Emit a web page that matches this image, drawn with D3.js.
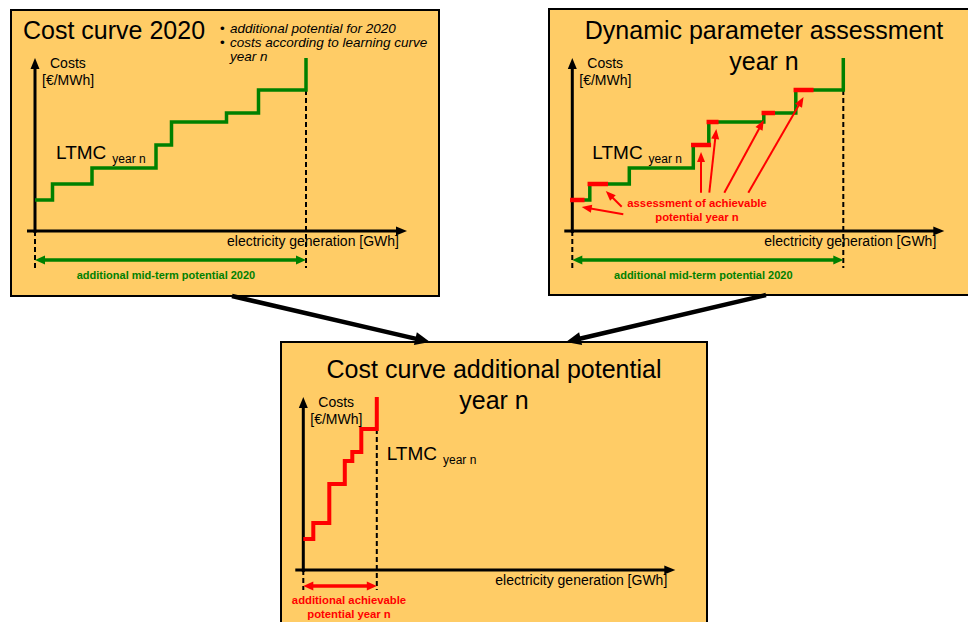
<!DOCTYPE html>
<html><head><meta charset="utf-8">
<script src="https://cdn.jsdelivr.net/npm/d3@7"></script>
<style>body{margin:0;background:#fff}svg{display:block;font-family:"Liberation Sans",Arial,sans-serif}</style>
</head><body><svg id="c" width="968" height="622"></svg>
<script>
// ---- data ----
const stepCosts = [31, 47, 63, 86, 109, 118, 141];          // LTMC per step [€/MWh, relative]
const stepPotential = [17.5, 39.5, 64, 15.5, 55, 32, 47.5]; // additional mid-term potential 2020 [GWh, relative]
const stepAchievable = [10, 16, 0, 15.5, 7.5, 9, 15.5];     // achievable potential year n [GWh, relative]
const capCost = 173;                                          // top of cost axis
const axisMaxX = 372;                                         // end of generation axis
const arrowTipFrac = [0.94, 1, 0.5, 1, 0, 0.5];               // where assessment arrows hit each achievable segment
const arrowTails = [[51, 16.7], [49.4, 24.3], [128.7, 38.3], [137, 38.3], [152, 38.3], [176, 38.3]];
const bulletLines = ['additional potential for 2020', 'costs according to learning curve', 'year n'];

const GREEN = '#008000', RED = '#ff0000', FILL = '#ffcc66';
const svg = d3.select('#c');

function arrowHead(g, x1, y1, x2, y2, len, wid, color) {
  const dx = x2 - x1, dy = y2 - y1, L = Math.hypot(dx, dy), ux = dx / L, uy = dy / L;
  const bx = x2 - ux * len, by = y2 - uy * len, px = -uy * wid / 2, py = ux * wid / 2;
  g.append('path').attr('d', `M${x2},${y2}L${bx + px},${by + py}L${bx - px},${by - py}Z`).attr('fill', color);
  return [bx + ux, by + uy];
}
function arrowLine(g, x1, y1, x2, y2, o = {}) {
  const len = o.len || 10, wid = o.wid || 9, color = o.color || '#000', sw = o.sw || 3;
  const [ex, ey] = arrowHead(g, x1, y1, x2, y2, len, wid, color);
  let sx = x1, sy = y1;
  if (o.both) [sx, sy] = arrowHead(g, x2, y2, x1, y1, len, wid, color);
  g.append('line').attr('x1', sx).attr('y1', sy).attr('x2', ex).attr('y2', ey)
    .attr('stroke', color).attr('stroke-width', sw);
}
function stepPoints(widths, costs) {
  const pts = []; let cx = 0;
  widths.forEach((w, i) => { pts.push([cx, costs[i]]); cx += w; pts.push([cx, costs[i]]); });
  pts.push([cx, capCost]);
  return pts;
}
function makePanel(box, origin) {
  const g = svg.append('g');
  g.append('rect').attr('x', box[0]).attr('y', box[1]).attr('width', box[2]).attr('height', box[3])
    .attr('fill', FILL).attr('stroke', '#000').attr('stroke-width', 2);
  const x = d3.scaleLinear().domain([0, axisMaxX]).range([origin[0], origin[0] + axisMaxX]);
  const y = d3.scaleLinear().domain([0, capCost]).range([origin[1], origin[1] - capCost]);
  return { g, x, y };
}
function axes(p, below, totalX, lastCost) {
  const { g, x, y } = p;
  g.append('line').attr('x1', x(0)).attr('x2', x(0)).attr('y1', y(0)).attr('y2', y(0) + below)
    .attr('stroke', '#000').attr('stroke-width', 2).attr('stroke-dasharray', '5,3');
  g.append('line').attr('x1', x(totalX)).attr('x2', x(totalX)).attr('y1', y(lastCost)).attr('y2', y(0) + below)
    .attr('stroke', '#000').attr('stroke-width', 2).attr('stroke-dasharray', '5,3');
  arrowLine(g, x(0), y(0) + 2, x(0), y(capCost), { sw: 3, len: 11, wid: 9 });
  arrowLine(g, x(-8), y(0), x(axisMaxX), y(0), { sw: 3, len: 11, wid: 9 });
  g.append('text').attr('x', x(15)).attr('y', y(163)).attr('font-size', 14).text('Costs');
  g.append('text').attr('x', x(7)).attr('y', y(146)).attr('font-size', 14).text('[€/MWh]');
  g.append('text').attr('x', x(364)).attr('y', y(0) + 15).attr('text-anchor', 'end').attr('font-size', 14)
    .text('electricity generation [GWh]');
}
function ltmc(g, xx, yy) {
  const t = g.append('text').attr('x', xx).attr('y', yy).attr('font-size', 19).text('LTMC');
  t.append('tspan').attr('dx', 6).attr('dy', 4).attr('font-size', 12).text('year n');
}
const line = (p) => d3.line().x(d => p.x(d[0])).y(d => p.y(d[1]));
const totalPot = d3.sum(stepPotential);
const starts = stepPotential.map((w, i) => d3.sum(stepPotential.slice(0, i)));

// ---- Panel 1: Cost curve 2020 ----
const p1 = makePanel([11, 10, 428, 286], [35, 231]);
axes(p1, 37, totalPot, stepCosts[stepCosts.length - 1]);
p1.g.append('path').datum(stepPoints(stepPotential, stepCosts)).attr('d', line(p1))
  .attr('fill', 'none').attr('stroke', GREEN).attr('stroke-width', 3.5);
p1.g.append('text').attr('x', 23).attr('y', 39).attr('font-size', 25).text('Cost curve 2020');
const bt = p1.g.append('text').attr('font-size', 13.5);
bulletLines.forEach((s, i) => {
  const yy = 32.5 + i * 14;
  if (i < 2) bt.append('tspan').attr('x', 220).attr('y', yy).text('•');
  bt.append('tspan').attr('x', 230).attr('y', yy).attr('font-style', 'italic').text(s);
});
ltmc(p1.g, 56, 159);
arrowLine(p1.g, p1.x(0), p1.y(0) + 29, p1.x(totalPot), p1.y(0) + 29, { both: true, color: GREEN, sw: 3.5, len: 10, wid: 9 });
p1.g.append('text').attr('x', p1.x(131)).attr('y', p1.y(0) + 48).attr('text-anchor', 'middle')
  .attr('font-size', 11).attr('font-weight', 'bold').attr('fill', GREEN).text('additional mid-term potential 2020');

// ---- Panel 2: Dynamic parameter assessment ----
const p2 = makePanel([549, 9, 430, 286], [572.3, 231]);
axes(p2, 37, totalPot, stepCosts[stepCosts.length - 1]);
p2.g.append('path').datum(stepPoints(stepPotential, stepCosts)).attr('d', line(p2))
  .attr('fill', 'none').attr('stroke', GREEN).attr('stroke-width', 3.5);
const achIdx = stepAchievable.map((a, i) => i).filter(i => stepAchievable[i] > 0);
p2.g.selectAll('.red').data(achIdx).join('line')
  .attr('x1', i => p2.x(starts[i])).attr('x2', i => p2.x(starts[i] + stepAchievable[i]))
  .attr('y1', i => p2.y(stepCosts[i])).attr('y2', i => p2.y(stepCosts[i]))
  .attr('stroke', RED).attr('stroke-width', 4.5).attr('stroke-linecap', 'square');
p2.g.append('text').attr('x', 764).attr('y', 39).attr('text-anchor', 'middle').attr('font-size', 25).text('Dynamic parameter assessment');
p2.g.append('text').attr('x', 764).attr('y', 70).attr('text-anchor', 'middle').attr('font-size', 25).text('year n');
ltmc(p2.g, 592.3, 159);
achIdx.forEach((i, k) => {
  const tx = p2.x(starts[i] + stepAchievable[i] * arrowTipFrac[k]), ty = p2.y(stepCosts[i]) + 7;
  arrowLine(p2.g, p2.x(arrowTails[k][0]), p2.y(arrowTails[k][1]), tx, ty, { color: RED, sw: 2, len: 10, wid: 8 });
});
p2.g.append('text').attr('x', 697).attr('y', 207).attr('text-anchor', 'middle').attr('font-size', 11.3)
  .attr('font-weight', 'bold').attr('fill', RED).text('assessment of achievable');
p2.g.append('text').attr('x', 697).attr('y', 220.5).attr('text-anchor', 'middle').attr('font-size', 11.3)
  .attr('font-weight', 'bold').attr('fill', RED).text('potential year n');
arrowLine(p2.g, p2.x(0), p2.y(0) + 29, p2.x(totalPot), p2.y(0) + 29, { both: true, color: GREEN, sw: 3.5, len: 10, wid: 9 });
p2.g.append('text').attr('x', p2.x(131)).attr('y', p2.y(0) + 48).attr('text-anchor', 'middle')
  .attr('font-size', 11).attr('font-weight', 'bold').attr('fill', GREEN).text('additional mid-term potential 2020');

// ---- Panel 3: Cost curve additional potential year n ----
const p3 = makePanel([281, 342, 426, 300], [303.3, 570]);
const achW = achIdx.map(i => stepAchievable[i]), achC = achIdx.map(i => stepCosts[i]);
const totalAch = d3.sum(achW);
axes(p3, 20, totalAch, achC[achC.length - 1]);
p3.g.append('path').datum(stepPoints(achW, achC)).attr('d', line(p3))
  .attr('fill', 'none').attr('stroke', RED).attr('stroke-width', 4);
p3.g.append('text').attr('x', 494).attr('y', 378).attr('text-anchor', 'middle').attr('font-size', 25).text('Cost curve additional potential');
p3.g.append('text').attr('x', 494).attr('y', 409).attr('text-anchor', 'middle').attr('font-size', 25).text('year n');
ltmc(p3.g, 386.7, 460);
arrowLine(p3.g, p3.x(0), p3.y(0) + 16, p3.x(totalAch), p3.y(0) + 16, { both: true, color: RED, sw: 3.5, len: 10, wid: 9 });
p3.g.append('text').attr('x', 349).attr('y', 604).attr('text-anchor', 'middle').attr('font-size', 11.3)
  .attr('font-weight', 'bold').attr('fill', RED).text('additional achievable');
p3.g.append('text').attr('x', 349).attr('y', 617.5).attr('text-anchor', 'middle').attr('font-size', 11.3)
  .attr('font-weight', 'bold').attr('fill', RED).text('potential year n');

// ---- connectors ----
const cg = svg.append('g');
arrowLine(cg, 232, 296, 430, 342, { sw: 4.5, len: 15, wid: 13 });
arrowLine(cg, 766, 295, 566, 342, { sw: 4.5, len: 15, wid: 13 });
</script></body></html>
